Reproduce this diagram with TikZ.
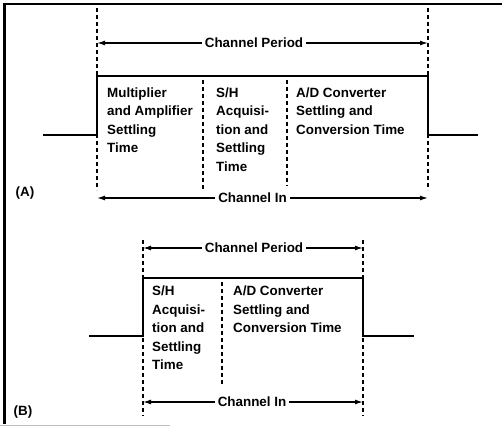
\documentclass[tikz,border=0pt]{standalone}
\usepackage{fontspec}
\setmainfont{Liberation Sans}
\usetikzlibrary{positioning, arrows.meta}
\tikzset{>={Latex[length=8pt,width=5pt]}}
\tikzset{
    caption/.style = {inner sep=0pt, align=left, anchor=north west,
                        font=\bfseries\fontsize{13.4}{18.5}\selectfont},
    tag/.style = {inner sep=0pt, font=\bfseries\fontsize{13.4}{16}\selectfont},
    span/.style = {inner sep=3pt, font=\bfseries\fontsize{13.4}{16}\selectfont},
    marker/.style = {line width=1.5pt, dash pattern=on 4pt off 3pt},
    pulse/.style = {line width=2.5pt},
    arrowline/.style = {->, line width=1.3pt}
}

\begin{document}
\begin{tikzpicture}[x=1pt,y=-1pt]
		\useasboundingbox (0,0) rectangle (502,427);
		\draw [line width=3pt] (4,424) -- (4,4);
		\draw [line width=2pt] (3,4) -- (502,4);
		\draw [black!25, line width=0.8pt] (0,425) -- (170,425);
		\draw [pulse] (43,135) -- (97,135) -- (97,76) -- (428,76) -- (428,135) -- (478,135);
		\draw [marker] (97,8) -- (97,190);
		\draw [marker] (203,80) -- (203,190);
		\draw [marker] (287,80) -- (287,186);
		\draw [marker] (428,8) -- (428,190);
		\node (multA) [caption] at (107,87.5) {Multiplier\\and Amplifier\\Settling\\Time};
		\node (shA) [caption] at (216,87.5) {S/H\\Acquisi-\\tion and\\Settling\\Time};
		\node (adA) [caption] at (296,87.5) {A/D Converter\\Settling and\\Conversion Time};
		\node (tagA) [tag] at (25,193) {(A)};
		\node (periodA) [span] at (254,43) {Channel Period};
		\coordinate (periodAl) at (97,43);
		\coordinate (periodAr) at (428,43);
		\draw [arrowline] (periodA) -- (periodAl);
		\draw [arrowline] (periodA) -- (periodAr);
		\node (inA) [span] at (252.5,198) {Channel In};
		\coordinate (inAl) at (97,198);
		\coordinate (inAr) at (428,198);
		\draw [arrowline] (inA) -- (inAl);
		\draw [arrowline] (inA) -- (inAr);
		\draw [pulse] (89,336) -- (143,336) -- (143,278) -- (363,278) -- (363,336) -- (414,336);
		\draw [marker] (143,240) -- (143,416);
		\draw [marker] (222,282) -- (222,384);
		\draw [marker] (363,240) -- (363,416);
		\node (shB) [caption] at (152,286) {S/H\\Acquisi-\\tion and\\Settling\\Time};
		\node (adB) [caption] at (233,286) {A/D Converter\\Settling and\\Conversion Time};
		\node (tagB) [tag] at (23,412) {(B)};
		\node (periodB) [span] at (254,248) {Channel Period};
		\coordinate (periodBl) at (143,248);
		\coordinate (periodBr) at (363,248);
		\draw [arrowline] (periodB) -- (periodBl);
		\draw [arrowline] (periodB) -- (periodBr);
		\node (inB) [span] at (252,402) {Channel In};
		\coordinate (inBl) at (143,402);
		\coordinate (inBr) at (363,402);
		\draw [arrowline] (inB) -- (inBl);
		\draw [arrowline] (inB) -- (inBr);
	\end{tikzpicture}
\end{document}
